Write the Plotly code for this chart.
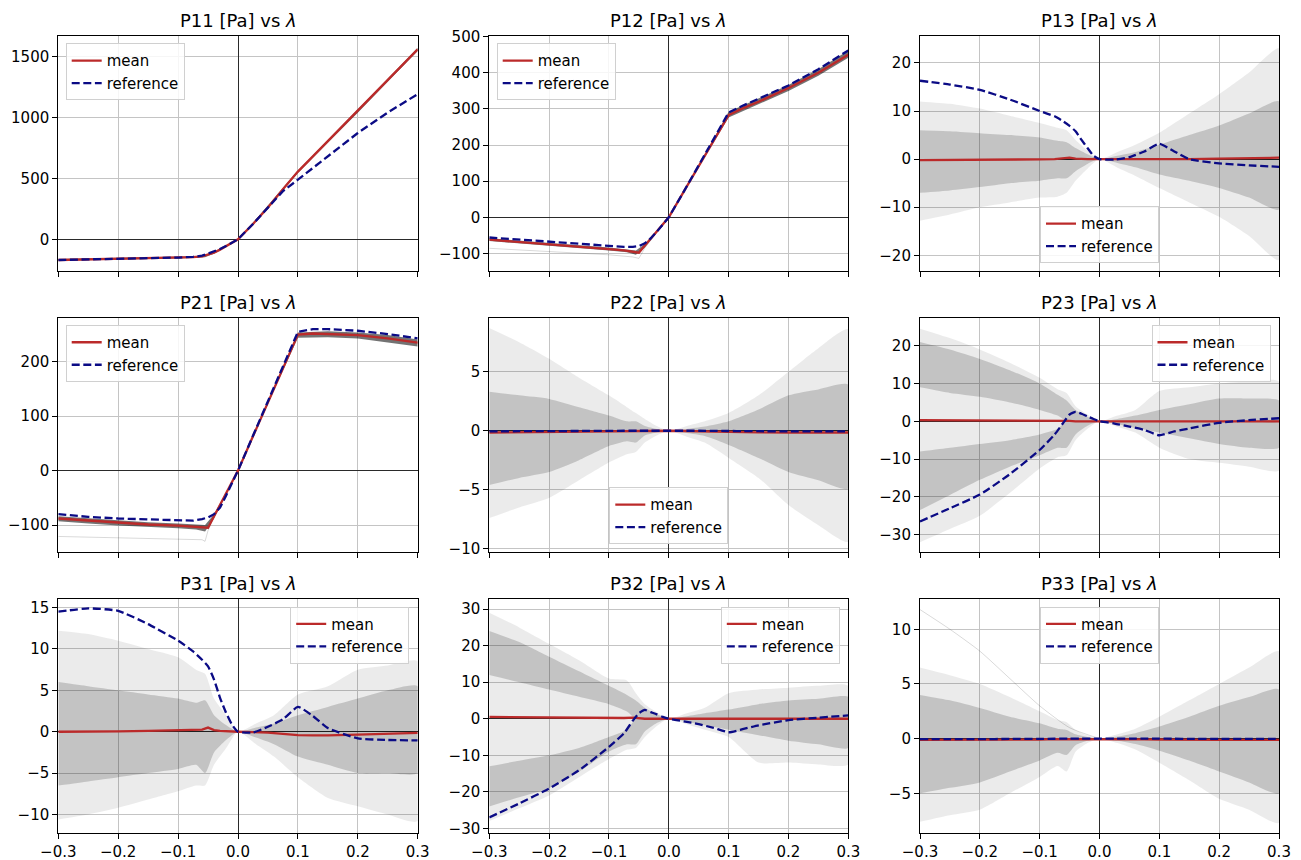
import plotly.graph_objects as go

W, H = 1301, 860

# ---------------- data ----------------
X = [-0.3, -0.25, -0.2, -0.15, -0.1, -0.075, -0.06, -0.05, -0.04, -0.03, -0.02, -0.01,
     0.0, 0.025, 0.05, 0.075, 0.1, 0.125, 0.15, 0.2, 0.25, 0.3]
XB = [-0.3, -0.25, -0.2, -0.15, -0.1, -0.07, -0.055, -0.04, -0.02, 0.0,
      0.03, 0.06, 0.1, 0.15, 0.2, 0.25, 0.3]
X_TICKS = [-0.3, -0.2, -0.1, 0.0, 0.1, 0.2, 0.3]

TITLES = ["P11", "P12", "P13", "P21", "P22", "P23", "P31", "P32", "P33"]

P11_mean = [-170, -166, -162, -157, -152, -147, -140, -128, -110, -85, -58, -29,
            0, 125, 260, 410, 555, 680, 805, 1050, 1305, 1558]
P11_ref = [-170, -166, -162, -157, -150, -144, -135, -118, -100, -80, -55, -28,
           0, 125, 258, 395, 489, 585, 680, 872, 1040, 1191]
P11_hi = [-163, -159, -155, -151, -146, -139, -130, -100, -52, 0, 165, 340, 565, 815, 1062, 1317, 1572]
P11_lo = [-177, -173, -169, -163, -158, -151, -148, -118, -64, 0, 148, 318, 543, 793, 1038, 1292, 1544]

P12_mean = [-62, -68, -75, -81, -88, -92, -95, -98, -78, -59, -39, -20,
            0, 71, 142, 212, 283, 303, 320, 358, 400, 450]
P12_ref = [-56, -62, -68, -74, -80, -82, -82, -80, -72, -58, -40, -20,
           0, 71, 143, 215, 290, 310, 328, 365, 410, 462]
P12_hi = [-58, -64, -71, -77, -84, -89, -92, -74, -37, 0, 87, 173, 292, 328, 366, 410, 462]
P12_lo = [-66, -72, -79, -85, -92, -97, -104, -84, -42, 0, 82, 166, 276, 313, 350, 392, 442]
P12_faint_x = [-0.3, -0.2, -0.1, -0.06, -0.05, -0.04, -0.02, 0.0]
P12_faint_y = [-86, -95, -104, -110, -114, -85, -42, 0]

P13_mean = [-0.2, -0.2, -0.15, -0.1, -0.05, 0.0, 0.1, 0.3, 0.1, 0.0, 0.0, 0.0,
            0.0, -0.1, -0.1, -0.15, -0.15, -0.1, 0.0, 0.1, 0.2, 0.3]
P13_ref = [16.3, 15.5, 14.4, 12.4, 10.0, 8.9, 7.8, 6.9, 5.8, 4.0, 2.3, 0.7,
           0.0, -0.1, 0.4, 1.6, 3.2, 1.6, 0.0, -0.9, -1.3, -1.6]
P13_out_hi = [12, 11.5, 10.5, 9, 7.5, 6.5, 6, 4, 1.8, 0, 1.5, 3, 5.5, 9.5, 13.5, 18, 23]
P13_out_lo = [-12.8, -11.5, -10, -9, -8, -7.8, -7, -4.5, -2, 0, -1.8, -3.5, -6, -9, -12, -16, -21]
P13_in_hi = [6, 5.8, 5.4, 5, 4.5, 3.8, 3.5, 2.3, 1, 0, 0.7, 1.5, 3, 5, 7, 9.5, 12]
P13_in_lo = [-7, -6.5, -5.8, -5, -4.5, -4, -4, -2.5, -1, 0, -0.8, -1.7, -3.2, -4.5, -6, -8, -10.5]

P21_mean = [-88, -92, -96, -99, -101, -103, -104, -105, -84, -63, -42, -21,
            0, 63, 125, 188, 250, 252, 251, 249, 243, 235]
P21_ref = [-80, -85, -88, -90, -92, -92, -89, -86, -80, -68, -46, -23,
           0, 64, 128, 192, 255, 260, 260, 257, 251, 243]
P21_hi = [-84, -88, -92, -95, -97, -99, -100, -80, -40, 0, 77, 153, 254, 256, 254, 249, 241]
P21_lo = [-93, -97, -101, -104, -106, -108, -112, -88, -44, 0, 73, 147, 244, 245, 243, 236, 228]
P21_faint_x = [-0.3, -0.2, -0.1, -0.06, -0.055, -0.05, -0.04, -0.02, 0.0]
P21_faint_y = [-121, -123, -125, -127, -130, -110, -85, -43, 0]

P22_mean = [-0.15, -0.12, -0.1, -0.08, -0.05, -0.03, -0.02, -0.02, -0.01, 0, 0, 0,
            0, -0.02, -0.05, -0.08, -0.1, -0.12, -0.13, -0.15, -0.15, -0.15]
P22_ref = [-0.05, -0.04, -0.03, -0.02, -0.01, 0, 0, 0, 0, 0, 0, 0,
           0, 0, 0, -0.01, -0.02, -0.03, -0.04, -0.05, -0.05, -0.05]
P22_out_hi = [8.7, 7.5, 6.1, 4.5, 3, 2, 1.5, 1, 0.4, 0, 0.4, 0.8, 1.5, 3, 5, 7, 8.6]
P22_out_lo = [-7.4, -6.5, -5.7, -4.2, -2.7, -2, -1.8, -1, -0.4, 0, -0.5, -1, -2.3, -4, -6.3, -8, -9.4]
P22_in_hi = [3.3, 3, 2.7, 2, 1.3, 0.8, 0.8, 0.4, 0.15, 0, 0.15, 0.35, 0.8, 1.8, 3, 3.5, 3.9]
P22_in_lo = [-4.6, -4, -3.5, -2.5, -1.3, -0.9, -1, -0.4, -0.15, 0, -0.2, -0.45, -1.2, -2.3, -3.5, -4.2, -4.9]

P23_mean = [0.3, 0.3, 0.3, 0.25, 0.2, 0.2, 0.2, 0.1, 0.0, 0.0, 0.0, 0.0,
            0.0, 0.0, 0.0, 0.0, 0.0, 0.0, 0.0, 0.0, 0.0, 0.0]
P23_ref = [-26.5, -23.0, -19.4, -14.0, -7.6, -3.5, -0.3, 1.8, 2.5, 2.0, 1.3, 0.6,
           0.0, -0.6, -1.4, -2.3, -3.7, -2.7, -1.9, -0.4, 0.3, 0.8]
P23_out_hi = [24.5, 22, 19, 15.5, 11.5, 8.5, 7.5, 4, 1.8, 0, 1.5, 3, 8, 9, 10, 10.5, 10.5]
P23_out_lo = [-32, -28.5, -25, -19, -12.5, -9.5, -9, -5, -2, 0, -1.5, -3, -7, -10, -11, -12, -13]
P23_up_hi = [21, 19, 16.5, 13.5, 10, 7, 5.5, 3, 1.2, 0, 0.6, 1.5, 3, 4.5, 6, 6, 5.5]
P23_up_lo = [9, 7.5, 6.5, 5, 3, 1.5, 0, 0, 0, 0, 0, 0, 0, 0, 0, 0, 0]
P23_dn_hi = [-8, -7, -6, -5, -3.5, -2, 0, 0, 0, 0, 0, 0, 0, 0, 0, 0, 0]
P23_dn_lo = [-23.5, -19.5, -15.5, -12, -9, -7, -7, -3.5, -1.2, 0, -0.8, -1.8, -3, -4.5, -6, -7, -7]

P31_mean = [0.0, 0.0, 0.05, 0.1, 0.15, 0.2, 0.25, 0.5, 0.2, 0.1, 0.05, 0.0,
            0.0, -0.05, -0.1, -0.25, -0.4, -0.45, -0.45, -0.35, -0.25, -0.15]
P31_ref = [14.5, 14.9, 14.6, 13.0, 11.0, 9.7, 8.7, 7.9, 6.3, 4.1, 2.3, 0.85,
           0.0, -0.1, 0.6, 1.5, 3.0, 1.9, 0.45, -0.8, -1.0, -1.05]
P31_out_hi = [12.2, 11.8, 11, 10, 9, 7.5, 7, 4, 2, 0, 1, 2, 4.5, 5.5, 7.5, 8, 8.5]
P31_out_lo = [-10.6, -10, -9.2, -8.2, -7.2, -6.5, -6.5, -4, -2, 0, -1.5, -3, -5.5, -8, -9, -10, -10.8]
P31_in_hi = [6, 5.5, 5, 4.5, 4, 3.5, 3.8, 2, 0.8, 0, 0.5, 1, 2, 3, 4, 5, 5.5]
P31_in_lo = [-6.5, -6, -5.5, -5, -4.5, -4, -5, -2.5, -1, 0, -0.7, -1.5, -3, -4, -5, -5, -5]

P32_mean = [0.5, 0.4, 0.3, 0.25, 0.2, 0.2, 0.3, 0.1, 0.0, 0.0, 0.0, 0.0,
            0.0, 0.0, 0.0, 0.0, 0.0, 0.0, 0.0, 0.0, 0.0, 0.0]
P32_ref = [-27.0, -23.2, -19.1, -14.1, -7.7, -4.0, -0.5, 1.5, 2.4, 1.8, 1.2, 0.5,
           0.0, -0.7, -1.5, -2.5, -3.7, -2.8, -1.8, -0.4, 0.3, 0.9]
P32_out_hi = [29, 25, 20.5, 16, 11, 10.5, 7, 4, 1.8, 0, 1.5, 3, 7, 8, 8.5, 9, 9]
P32_out_lo = [-28, -24.5, -21, -16, -11, -8.5, -8, -5, -2, 0, -1.5, -3, -5, -12, -12, -12.5, -12.5]
P32_up_hi = [24, 21, 17, 13, 9, 6.5, 5, 3, 1.2, 0, 0.7, 1.5, 2.5, 4, 5, 5.5, 6]
P32_up_lo = [12, 10, 8, 6, 4, 2, 0, 0, 0, 0, 0, 0, 0, 0, 0, 0, 0]
P32_dn_hi = [-13, -11.5, -10, -8, -5, -3, 0, 0, 0, 0, 0, 0, 0, 0, 0, 0, 0]
P32_dn_lo = [-24, -21.5, -19, -14.5, -9, -7, -7, -3.5, -1.2, 0, -0.8, -1.8, -3, -4.5, -6, -7, -8]

P33_mean = [-0.12, -0.12, -0.1, -0.1, -0.08, -0.05, -0.05, -0.03, -0.02, -0.01, 0, 0,
            0, -0.02, -0.04, -0.06, -0.08, -0.1, -0.1, -0.12, -0.12, -0.12]
P33_ref = [-0.05, -0.05, -0.04, -0.03, -0.02, -0.01, 0, 0, 0, 0, 0, 0,
           0, 0, 0, 0, 0, -0.01, -0.02, -0.03, -0.03, -0.03]
P33_out_hi = [6.5, 5.8, 5, 3.8, 2.5, 1.7, 1.5, 0.8, 0.3, 0, 0.4, 0.9, 2, 3.5, 5, 6.5, 8]
P33_out_lo = [-7.6, -7, -6.5, -5, -3.5, -2.5, -3, -1.2, -0.4, 0, -0.4, -1, -2.2, -3.8, -5.5, -6.5, -7.7]
P33_in_hi = [4, 3.5, 2.8, 2, 1.4, 0.9, 0.8, 0.4, 0.15, 0, 0.2, 0.5, 1.1, 2, 3, 3.8, 4.5]
P33_in_lo = [-5, -4.5, -4, -3, -2, -1.3, -1.5, -0.6, -0.2, 0, -0.2, -0.5, -1.1, -2, -3, -4, -5]
P33_outlier_x = [-0.3, -0.25, -0.2, -0.15, -0.1, -0.05, 0.0]
P33_outlier_y = [11.8, 10.0, 8.0, 5.5, 3.0, 1.0, 0.0]

# ---------------- styling / layout config ----------------
RED = "#bb2a2a"
BLUE = "#0b0b85"
OUTER = "rgba(0,0,0,0.08)"
INNER = "rgba(0,0,0,0.17)"
TIGHT = "rgba(0,0,0,0.55)"
FAINT = "rgba(0,0,0,0.15)"
FONT = "DejaVu Sans"

COL_PX = [(58.3, 417.7), (489.3, 848.3), (920.0, 1279.0)]
ROW_PX = [(36.0, 270.7), (317.7, 551.7), (599.3, 832.7)]

panels = [
    dict(mean=P11_mean, ref=P11_ref, bands=[(P11_hi, P11_lo, TIGHT)], faint=[], smooth=False,
         yr=[-258, 1668], yt=[0, 500, 1000, 1500], leg="ul"),
    dict(mean=P12_mean, ref=P12_ref, bands=[(P12_hi, P12_lo, TIGHT)], smooth=False,
         faint=[(P12_faint_x, P12_faint_y)],
         yr=[-148, 502], yt=[-100, 0, 100, 200, 300, 400, 500], leg="ul"),
    dict(mean=P13_mean, ref=P13_ref, smooth=True,
         bands=[(P13_out_hi, P13_out_lo, OUTER), (P13_in_hi, P13_in_lo, INNER)], faint=[],
         yr=[-23.2, 25.6], yt=[-20, -10, 0, 10, 20], leg="lc"),
    dict(mean=P21_mean, ref=P21_ref, bands=[(P21_hi, P21_lo, TIGHT)], smooth=False,
         faint=[(P21_faint_x, P21_faint_y)],
         yr=[-149, 281], yt=[-100, 0, 100, 200], leg="ul"),
    dict(mean=P22_mean, ref=P22_ref, smooth=True,
         bands=[(P22_out_hi, P22_out_lo, OUTER), (P22_in_hi, P22_in_lo, INNER)], faint=[],
         yr=[-10.25, 9.58], yt=[-10, -5, 0, 5], leg="lc"),
    dict(mean=P23_mean, ref=P23_ref, smooth=True,
         bands=[(P23_out_hi, P23_out_lo, OUTER), (P23_up_hi, P23_up_lo, INNER),
                (P23_dn_hi, P23_dn_lo, INNER)], faint=[],
         yr=[-34.5, 27.4], yt=[-30, -20, -10, 0, 10, 20], leg="ur"),
    dict(mean=P31_mean, ref=P31_ref, smooth=True,
         bands=[(P31_out_hi, P31_out_lo, OUTER), (P31_in_hi, P31_in_lo, INNER)], faint=[],
         yr=[-12.2, 16.0], yt=[-10, -5, 0, 5, 10, 15], leg="ur"),
    dict(mean=P32_mean, ref=P32_ref, smooth=True,
         bands=[(P32_out_hi, P32_out_lo, OUTER), (P32_up_hi, P32_up_lo, INNER),
                (P32_dn_hi, P32_dn_lo, INNER)], faint=[],
         yr=[-31.2, 32.7], yt=[-30, -20, -10, 0, 10, 20, 30], leg="ur"),
    dict(mean=P33_mean, ref=P33_ref, smooth=True,
         bands=[(P33_out_hi, P33_out_lo, OUTER), (P33_in_hi, P33_in_lo, INNER)],
         faint=[(P33_outlier_x, P33_outlier_y)],
         yr=[-8.6, 12.74], yt=[-5, 0, 5, 10], leg="uc"),
]

fig = go.Figure()
layout = dict(
    template="none",
    width=W, height=H, margin=dict(l=0, r=0, t=0, b=0, pad=0, autoexpand=False),
    paper_bgcolor="white", plot_bgcolor="white",
    font=dict(family=FONT, size=15, color="black"),
    annotations=[], hovermode=False,
)

for i, pn in enumerate(panels):
    r, c = divmod(i, 3)
    sfx = "" if i == 0 else str(i + 1)
    xa, ya = "x" + sfx, "y" + sfx
    leg = "legend" if i == 0 else "legend" + str(i + 1)
    x0, x1 = COL_PX[c]
    y0, y1 = ROW_PX[r]
    shp = "spline" if pn["smooth"] else "linear"

    for hi, lo, col in pn["bands"]:
        fig.add_trace(go.Scatter(x=XB + XB[::-1], y=hi + lo[::-1], fill="toself",
                                 fillcolor=col, mode="lines",
                                 line=dict(width=0, color=col, shape=shp, smoothing=0.6),
                                 showlegend=False, hoverinfo="skip", xaxis=xa, yaxis=ya))
    for fx, fy in pn["faint"]:
        fig.add_trace(go.Scatter(x=fx, y=fy, mode="lines",
                                 line=dict(width=1, color=FAINT, shape=shp, smoothing=0.6),
                                 showlegend=False, hoverinfo="skip", xaxis=xa, yaxis=ya))
    fig.add_trace(go.Scatter(x=X, y=pn["mean"], mode="lines", name="mean",
                             line=dict(color=RED, width=2.3), legend=leg, xaxis=xa, yaxis=ya))
    fig.add_trace(go.Scatter(x=X, y=pn["ref"], mode="lines", name="reference",
                             line=dict(color=BLUE, width=2.3, dash="8px,3.6px",
                                       shape=shp, smoothing=0.5),
                             legend=leg, xaxis=xa, yaxis=ya))

    common = dict(showgrid=True, gridcolor="#c4c4c4", gridwidth=1.2, automargin=False,
                  showline=True, linecolor="black", linewidth=1.1, mirror=True,
                  ticks="outside", ticklen=5, tickwidth=1.1, tickcolor="black",
                  zeroline=True, zerolinecolor="#2a2a2a", zerolinewidth=1.2,
                  tickfont=dict(family=FONT, size=15, color="black"))
    layout["xaxis" + sfx] = dict(common, domain=[x0 / W, x1 / W], range=[-0.3, 0.3],
                                 anchor=ya, tickmode="array", tickvals=X_TICKS,
                                 tickformat=".1f", showticklabels=(r == 2))
    layout["yaxis" + sfx] = dict(common, domain=[1 - y1 / H, 1 - y0 / H], range=pn["yr"],
                                 anchor=xa, tickmode="array", tickvals=pn["yt"])

    if pn["leg"] == "ul":
        lx, ly, xan, yan = x0 + 7.4, y0 + 7.3, "left", "top"
    elif pn["leg"] == "ur":
        lx, ly, xan, yan = x1 - 8.5, y0 + 7.3, "right", "top"
    elif pn["leg"] == "lc":
        lx, ly, xan, yan = (x0 + x1) / 2, y1 - 7.4, "center", "bottom"
    else:
        lx, ly, xan, yan = (x0 + x1) / 2, y0 + 7.3, "center", "top"
    layout[leg] = dict(x=lx / W, y=1 - ly / H, xanchor=xan, yanchor=yan,
                       xref="paper", yref="paper",
                       bgcolor="rgba(255,255,255,0.85)", bordercolor="#d0d0d0", borderwidth=1,
                       font=dict(family=FONT, size=15, color="black"), tracegroupgap=0)

    layout["annotations"].append(dict(
        text=TITLES[i] + " [Pa] vs <i>λ</i>", x=(x0 + x1) / 2 / W, y=1 - (y0 - 15.5) / H,
        xref="paper", yref="paper", xanchor="center", yanchor="middle", showarrow=False,
        font=dict(family=FONT, size=18, color="black")))

fig.update_layout(**layout)
fig.write_html("out.html")
